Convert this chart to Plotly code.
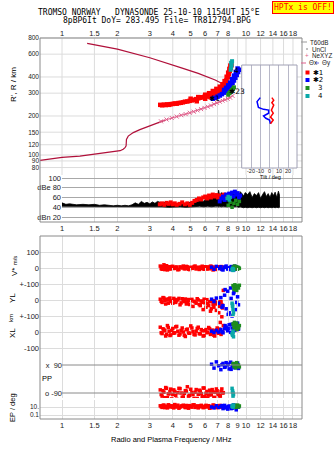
import math
import plotly.graph_objects as go

W, H = 335, 451
def px(x): return x / W
def py(y): return 1 - y / H
L10 = math.log10

# ---------------- axes ticks ----------------
freq_ticks = [1, 1.5, 2, 3, 4, 5, 6, 7, 8, 9, 10, 12, 14, 16, 18]
freq_labels = ["1", "1.5", "2", "3", "4", "5", "6", "7", "8", "9", "10", "12", "14", "16", "18"]
freq_labels_top = ["1", "1.5", "2", "3", "4", "5", "6", "7", "8", "", "10", "12", "14", "16", "18"]
r_ticks = [80, 90, 100, 120, 150, 200, 300, 400, 600, 800]
db_ticks = [20, 40, 60, 80, 100]
db_labels = ["dBn 20", "40", "60", "dBe 80", "100"]
tilt_ticks = [-20, -10, 0, 10, 20]

# ---------------- top panel: profile & echoes ----------------
prof_f = [0.76, 1.0, 1.25, 1.6, 1.85, 2.07, 2.15, 2.2, 2.23, 2.24, 2.29, 2.44, 2.65, 2.89, 3.1, 3.4, 3.63]
prof_r = [91, 96, 98, 103, 105, 108, 111, 114, 118, 132, 140, 149, 157, 165, 171, 181, 186]

nexyz_f = [3.45, 3.7, 3.95, 4.2, 4.45, 4.7, 4.95, 5.2, 5.45, 5.7, 5.95, 6.2, 6.45, 6.7, 6.95, 7.2, 7.45, 7.7, 7.95, 8.2, 8.45]
nexyz_r = [182, 188, 193, 198, 203, 207, 212, 216, 221, 226, 231, 236, 241, 247, 253, 258, 263, 267, 272, 277, 286]

desc_f = [1.37, 2.0, 3.0, 3.63, 4.5, 5.5, 6.8, 7.69, 8.36]
desc_r = [728, 657, 563, 519, 468, 427, 379, 347, 333]

red_f = [3.42, 3.5, 3.58, 3.66, 3.74, 3.82, 3.9, 4.0, 4.1, 4.2, 4.3, 4.42, 4.54, 4.66, 4.8, 4.94, 5.08,
         5.22, 5.36, 5.5, 5.64, 5.78, 5.92, 6.06, 6.2, 6.34, 6.48, 6.62, 6.76, 6.9, 7.04, 7.18, 7.32,
         7.46, 7.6, 7.72, 7.84, 7.96, 8.06, 8.16, 8.26, 8.34]
red_r = [244, 242, 245, 243, 246, 244, 247, 248, 250, 249, 252, 253, 255, 258, 259, 262, 264,
         267, 270, 274, 277, 279, 281, 283, 285, 288, 292, 297, 302, 307, 312, 318, 325,
         335, 348, 362, 378, 398, 420, 445, 470, 492]
red_hi_f = [5.0, 5.5, 6.0, 6.3, 6.6, 6.9, 7.2, 7.45, 7.65, 7.85, 8.0, 8.12, 8.22]
red_hi_r = [272, 280, 292, 300, 312, 324, 337, 352, 372, 402, 432, 462, 490]
red_lo_f = [5.4, 6.0, 6.4, 6.7, 7.0, 7.2, 7.4, 7.6, 7.8, 8.0]
red_lo_r = [260, 272, 280, 288, 295, 299, 308, 320, 335, 352]

blue_f = [6.6, 6.8, 7.0, 7.2, 7.4, 7.6, 7.8, 8.0, 8.15, 8.3, 8.45, 8.6, 8.75, 8.9, 9.05, 9.15]
blue_r = [272, 276, 282, 288, 295, 303, 312, 322, 332, 345, 360, 376, 395, 415, 437, 455]
blue2_f = [7.6, 7.8, 8.0, 8.2, 8.4, 8.6, 8.8, 9.0]
blue2_r = [318, 330, 345, 362, 385, 410, 438, 465]
green_f = [8.0, 8.1, 8.2, 8.3, 8.4, 8.5, 8.6]
green_r = [292, 300, 305, 312, 318, 325, 333]
teal_f = [8.25, 8.3, 8.35, 8.3, 8.4]
teal_r = [455, 475, 495, 515, 530]

echo_labels = ["✱1", "✱23", "4"]
echo_label_f = [6.78, 8.95, 8.83]
echo_label_r = [272, 310, 449]

# tilt inset (height km vs tilt deg)
tilty_r = [277, 258, 233, 225, 222, 210, 200, 192, 186, 174]
tilty_d = [-10, -13.5, -12, -6.5, -1, -1, -6.5, -4, 0, 1]
tiltx_r = [277, 265, 253, 243, 222, 210, 196, 186, 174]
tiltx_d = [2.5, 4.5, 2.5, 4.5, 2, 4, 1, 4, 1]

# ---------------- amplitude panel ----------------
noise_f = [1.00, 1.05, 1.1, 1.2, 1.3, 1.4, 1.5, 1.6, 1.7, 1.8, 1.9, 2.0, 2.1, 2.2, 2.3, 2.4, 2.5, 2.6,
           2.7, 2.8, 2.9, 3.0, 3.1, 3.2, 3.3, 3.5, 3.8, 4.1, 4.4, 4.7, 5.0, 5.3, 5.6, 5.9, 6.2, 6.5,
           6.8, 7.0, 7.1, 7.2, 7.35, 7.5, 7.7, 7.9, 8.1, 8.3, 8.5, 8.7, 8.9, 9.1, 9.3, 9.5, 9.7, 9.9,
           10.2, 10.5, 10.8, 11.1, 11.4, 11.7, 12.0, 12.3, 12.6, 12.9, 13.2, 13.5, 13.8, 14.1, 14.4,
           14.7, 15.0, 15.2]
noise_hi = [49, 46, 47, 45, 46, 45, 46, 44, 45, 44, 43, 44, 43, 44, 43, 45, 49, 46,
            52, 48, 50, 47, 51, 48, 52, 49, 50, 47, 46, 48, 50, 55, 60, 52, 64, 58,
            66, 60, 75, 62, 70, 66, 68, 64, 70, 62, 72, 65, 70, 60, 72, 68, 63, 70,
            66, 72, 60, 68, 64, 70, 58, 66, 72, 62, 68, 60, 70, 64, 71,
            60, 73, 65]
noise_lo = [42, 42, 41, 41, 41, 41, 41, 41, 41, 41, 41, 41, 41, 41, 41, 41, 41, 41,
            41, 41, 41, 41, 41, 41, 41, 41, 40, 40, 41, 40, 41, 41, 42, 41, 42, 41,
            42, 42, 41, 42, 41, 42, 42, 41, 42, 41, 42, 41, 42, 40, 41, 40, 39, 40,
            39, 40, 39, 40, 39, 40, 39, 40, 39, 40, 39, 40, 39, 40, 39,
            40, 39, 40]
red_db_f = [3.4, 3.5, 3.6, 3.7, 3.8, 3.9, 4.0, 4.1, 4.2, 4.35, 4.5, 4.65, 4.8, 4.95, 5.1, 5.25, 5.4,
            5.55, 5.7, 5.85, 6.0, 6.15, 6.3, 6.45, 6.6, 6.75, 6.9, 7.05, 7.2, 7.4, 7.6, 7.8, 8.0, 8.2]
red_db = [46, 48, 45, 49, 47, 50, 46, 48, 45, 47, 50, 46, 48, 45, 49, 53, 55,
          58, 56, 60, 62, 58, 64, 60, 66, 62, 65, 60, 64, 63, 66, 61, 65, 62]
blue_db_f = [7.2, 7.35, 7.5, 7.65, 7.8, 7.95, 8.1, 8.25, 8.4, 8.55, 8.7, 8.85, 9.0, 9.15, 9.3]
blue_db = [52, 58, 62, 55, 66, 60, 68, 64, 70, 62, 72, 66, 69, 60, 64]
green_db_f = [8.0, 8.2, 8.4, 8.6, 8.8, 9.0, 9.2]
green_db = [44, 50, 40, 48, 54, 46, 52]
teal_db_f = [7.9, 8.0, 8.1, 8.2]
teal_db = [58, 62, 55, 60]

# ---------------- lower panel (V*, YL, XL, PP, EP) ----------------
lr_f = [3.42, 3.5, 3.58, 3.66, 3.74, 3.82, 3.9, 4.0, 4.1, 4.2, 4.32, 4.44, 4.56, 4.68, 4.8, 4.94, 5.08,
        5.22, 5.36, 5.5, 5.64, 5.78, 5.92, 6.06, 6.2, 6.34, 6.48, 6.62, 6.76, 6.9, 7.04, 7.18, 7.32, 7.46]
lr_vs = [12, -8, 20, 3, -12, 8, -5, 10, -2, 6, -9, 4, 12, -4, 7, -10, 3, 9, -6, 5, -3, 11, -8, 2, 7, -5,
         10, -12, 4, -7, 6, -3, 9, -1]
lr_yl = [5, -15, 12, -25, 0, 8, -10, -20, 3, -5, 10, -18, -2, 6, -12, -28, 4, -8, -20, 0, -35, -15, 5,
         -45, -22, -10, -55, -30, -5, -65, -20, -40, -12, -50]
lr_xl = [30, -10, 15, -25, 40, 5, -18, 22, -5, 35, -20, 10, 0, -28, 18, -8, 25, -15, 5, 30, -12, 8, -22,
         15, -3, 20, -10, 5, -25, 12, -5, 18, -15, 3]
lr_pp = [-70, -110, -85, -55, -120, -95, -65, -100, -80, -130, -60, -90, -115, -75, -50, -105, -88, -125,
         -68, -98, -78, -112, -58, -92, -122, -72, -102, -84, -118, -64, -96, -108, -80, -90]
lr_ep = [20, 8, 30, 12, 6, 25, 15, 9, 40, 10, 5, 18, 28, 7, 12, 22, 9, 35, 14, 6, 20, 11, 8, 26, 16, 5,
         12, 30, 9, 18, 7, 22, 13, 10]

lr2_f = [3.46, 3.54, 3.62, 3.7, 3.78, 3.86, 3.95, 4.05, 4.15, 4.26, 4.38, 4.5, 4.62, 4.74, 4.87, 5.01,
         5.15, 5.29, 5.43, 5.57, 5.71, 5.85, 5.99, 6.13, 6.27, 6.41, 6.55, 6.69, 6.83, 6.97, 7.11, 7.25,
         7.39, 7.53]
lr2_vs = [-4, 8, -10, 14, 2, -6, 9, -3, 5, -11, 7, 0, -5, 10, -8, 4, -2, 12, 1, -9, 6, -4, 8, -7, 3, 11,
          -2, 5, -9, 8, 0, 6, -5, 4]
lr2_yl = [-8, 15, -3, 5, -20, 12, -6, 10, -15, 2, -30, 8, -10, -25, 3, -5, -40, -12, 8, -28, -6, -60,
          -18, 2, -35, -70, -8, -45, -25, -15, -80, -10, -30, 60]
lr2_xl = [-5, 20, 8, -15, 28, -22, 10, -8, 32, 5, -12, 25, -20, 14, -6, 38, 2, -18, 22, -10, 15, -25, 8,
          -4, 28, -15, 12, -20, 6, 25, -8, 60, 95, 40]
lr2_pp = [-100, -75, -120, -60, -95, -82, -128, -70, -105, -88, -62, -118, -92, -78, -110, -66, -100,
          -85, -125, -72, -94, -58, -114, -80, -103, -90, -68, -120, -86, -76, -98, -110, -64, -88]
lr2_ep = [12, 25, 7, 16, 35, 10, 20, 6, 14, 28, 9, 18, 11, 24, 5, 15, 32, 8, 19, 12, 26, 7, 17, 10, 21,
          6, 13, 27, 8, 15, 11, 23, 9, 14]

lb_f = [6.5, 6.7, 6.9, 7.1, 7.3, 7.5, 7.65, 7.8, 7.95, 8.1, 8.25, 8.4, 8.55, 8.7, 8.85, 9.0, 9.1,
        7.4, 7.7, 8.0, 8.3, 8.6, 8.9]
lb_vs = [5, -8, 10, -3, 8, -12, 4, 12, -6, 2, -10, 7, -4, 11, -7, 3, -2, -9, 6, -5, 9, -11, 0]
lb_yl = [5, -10, 12, -20, 15, -35, 30, -55, 55, -80, 75, -100, 40, 85, -60, 20, -30, -45, 65, -90, 10, 50, -15]
lb_xl = [5, -3, 10, 0, 15, -5, 20, 30, 8, 45, -2, 25, 50, 12, 35, 55, 18, 2, 40, 22, 48, 10, 28]
lb_pp = [95, 70, 110, 85, 60, 100, 75, 105, 90, 65, 108, 80, 98, 72, 88, 102, 68, 92, 78, 96, 62, 84, 100]
lb_ep = [10, 6, 20, 8, 14, 4, 25, 9, 3, 18, 12, 5, 30, 7, 2, 15, 10, 22, 6, 12, 4, 28, 9]

lg_f = [8.5, 8.6, 8.7, 8.8, 8.9, 9.0, 9.1, 9.2, 8.65, 8.95]
lg_vs = [5, -5, 10, 0, 8, -6, 3, -2, 12, -8]
lg_yl = [90, 70, 95, 80, 60, 85, 75, 92, 65, 88]
lg_xl = [50, 30, 45, 20, 55, 35, 25, 40, 60, 15]
lg_pp = [100, 80, 95, 72, 105, 85, 90, 78, 98, 88]
lg_ep = [20, 12, 25, 8, 15, 30, 10, 18, 22, 14]

lt_f = [8.4, 8.45, 8.5, 8.55, 8.5, 8.45]
lt_vs = [-10, -5, -15, -8, -12, -3]
lt_yl = [-20, -40, -60, -80, -95, -30]
lt_xl = [-10, -20, 5, -30, -5, -15]
lt_pp = [-60, -75, -90, -100, -110, -85]
lt_ep = [15, 25, 10, 30, 20, 12]

# ---------------- styling ----------------
RED, BLUE, GREEN, TEAL = "#ff0000", "#0000ff", "#1e8c1e", "#0aa8a8"
PROF, PINK = "#b0103a", "#e0608c"
GRID = "#dcdcdc"
TF = dict(family="Liberation Sans", size=7.5, color="#222")
TF_R = dict(family="Liberation Sans", size=6.5, color="#222")

# pixel geometry of the top panel (for gridlines that must stop at the tilt inset)
FX0, FPX = 62, 184          # x pixel of 1 MHz, pixels per decade
RY0, RPX = 155, 129.6       # y pixel of 100 km, pixels per decade
IX0, IX1, IY0, IY1 = 241.7, 297, 65, 168
TOP0, TOP1 = 38, 175

fig = go.Figure()

def pts(x, y, xa, ya, color, size=4, symbol="square"):
    fig.add_trace(go.Scatter(x=x, y=y, xaxis=xa, yaxis=ya, mode="markers",
                             marker=dict(color=color, size=size, symbol=symbol, line=dict(width=0)),
                             showlegend=False, hoverinfo="skip"))

def line(x, y, xa, ya, color, width=1.2):
    fig.add_trace(go.Scatter(x=x, y=y, xaxis=xa, yaxis=ya, mode="lines",
                             line=dict(color=color, width=width),
                             showlegend=False, hoverinfo="skip"))

# top panel
line(prof_f, prof_r, "x", "y", PROF)
line(desc_f, desc_r, "x", "y", PROF)
fig.add_trace(go.Scatter(x=nexyz_f, y=nexyz_r, xaxis="x", yaxis="y", mode="lines+markers",
                         line=dict(color=PINK, width=1),
                         marker=dict(symbol="x-thin", size=4, line=dict(color=PINK, width=1)),
                         showlegend=False, hoverinfo="skip"))
pts(red_f, red_r, "x", "y", RED, 4.5)
pts(red_hi_f, red_hi_r, "x", "y", RED, 4.5)
pts(red_lo_f, red_lo_r, "x", "y", RED, 4.5)
pts(blue_f, blue_r, "x", "y", BLUE, 4.5)
pts(blue2_f, blue2_r, "x", "y", BLUE, 4.5)
pts(green_f, green_r, "x", "y", GREEN, 4)
pts(teal_f, teal_r, "x", "y", TEAL, 4)

# tilt inset
line(tilty_d, tilty_r, "x4", "y8", BLUE, 1.5)
line(tiltx_d, tiltx_r, "x4", "y8", RED, 1.5)

# amplitude panel
fig.add_trace(go.Scatter(x=noise_f + noise_f[::-1], y=noise_hi + noise_lo[::-1], xaxis="x2", yaxis="y2",
                         mode="lines", fill="toself", fillcolor="#000", line=dict(color="#000", width=0.8),
                         showlegend=False, hoverinfo="skip"))
pts(red_db_f, red_db, "x2", "y2", RED, 4)
pts(blue_db_f, blue_db, "x2", "y2", BLUE, 4)
pts(green_db_f, green_db, "x2", "y2", GREEN, 3.5)
pts(teal_db_f, teal_db, "x2", "y2", TEAL, 3.5)

# lower panel
for (f, vs, yl, xl, pp, ep, c) in [
    (lr_f, lr_vs, lr_yl, lr_xl, lr_pp, lr_ep, RED),
    (lr2_f, lr2_vs, lr2_yl, lr2_xl, lr2_pp, lr2_ep, RED),
    (lb_f, lb_vs, lb_yl, lb_xl, lb_pp, lb_ep, BLUE),
    (lg_f, lg_vs, lg_yl, lg_xl, lg_pp, lg_ep, GREEN),
    (lt_f, lt_vs, lt_yl, lt_xl, lt_pp, lt_ep, TEAL),
]:
    pts(f, vs, "x3", "y3", c, 3.5)
    pts(f, yl, "x3", "y4", c, 3.5)
    pts(f, xl, "x3", "y5", c, 3.5)
    pts(f, pp, "x3", "y6", c, 3.5)
    pts(f, ep, "x3", "y7", c, 3.5)

XR = [-0.1196, 1.3043]
xbase = dict(type="log", tickvals=freq_ticks, showgrid=True, gridcolor=GRID, gridwidth=1,
             zeroline=False, showline=False, ticks="", tickfont=TF, tickangle=0)
ybase = dict(showgrid=True, gridcolor=GRID, gridwidth=1, zeroline=False, showline=False,
             ticks="", tickfont=TF, tickangle=0)

fig.update_layout(
    width=W, height=H, margin=dict(l=0, r=0, t=0, b=0, autoexpand=False),
    paper_bgcolor="white", plot_bgcolor="rgba(0,0,0,0)", showlegend=False,
    xaxis=dict(**{**xbase, "showgrid": False}, domain=[px(40), px(302)], range=XR, anchor="y",
               side="top", ticktext=freq_labels_top),
    yaxis=dict(**{**ybase, "showgrid": False, "tickfont": TF_R}, type="log", domain=[py(TOP1), py(TOP0)],
               range=[1.846, 2.9031], anchor="x", tickvals=r_ticks, ticktext=[str(v) for v in r_ticks]),
    xaxis2=dict(**xbase, domain=[px(62), px(302)], range=[0, XR[1]], anchor="y2", side="bottom",
                ticktext=freq_labels),
    yaxis2=dict(**{**ybase, "gridcolor": "#a8a8a8"}, domain=[py(222), py(175)], range=[9.74, 106.15],
                anchor="x2", tickvals=db_ticks, ticktext=db_labels),
    xaxis3=dict(**xbase, domain=[px(40), px(302)], range=XR, anchor="y7", side="bottom",
                ticktext=freq_labels),
    yaxis3=dict(**ybase, domain=[py(300), py(236)], range=[-200, 200], anchor="x3",
                tickvals=[100, 0], ticktext=["100", "0"]),
    yaxis4=dict(**ybase, domain=[py(332), py(268)], range=[-200, 200], anchor="x3",
                tickvals=[100, 0], ticktext=["+-100", "0"]),
    yaxis5=dict(**ybase, domain=[py(364), py(300)], range=[-200, 200], anchor="x3",
                tickvals=[100, 0, -100], ticktext=["+-100", "0", "-100"]),
    yaxis6=dict(**{**ybase, "showgrid": False}, domain=[py(398), py(360)], range=[-122.1, 122.1],
                anchor="free", position=px(62), tickvals=[90, -90], ticktext=["x  90", "o -90"]),
    yaxis7=dict(**{**ybase, "tickfont": TF_R}, type="log", domain=[py(419), py(400)], range=[-2, 2.75],
                anchor="x3", tickvals=[10, 0.1], ticktext=["10.", "0.1"]),
    xaxis4=dict(domain=[px(IX0), px(IX1)], range=[-30.1, 29.7], anchor="y8", showgrid=True,
                gridcolor="#b8b8c8", zeroline=False, showline=False, ticks="",
                tickvals=tilt_ticks, showticklabels=False),
    yaxis8=dict(type="log", domain=[py(IY1), py(IY0)], range=[1.8997, 2.6944], anchor="x4",
                showgrid=False, zeroline=False, showline=False, showticklabels=False, ticks=""),
)

shapes = []
def hline(x0, x1, y, color=GRID, layer="below"):
    shapes.append(dict(type="line", xref="paper", yref="paper", x0=px(x0), x1=px(x1), y0=py(y), y1=py(y),
                       line=dict(color=color, width=1), layer=layer))
def vline(x, y0, y1, color=GRID, layer="below"):
    shapes.append(dict(type="line", xref="paper", yref="paper", x0=px(x), x1=px(x), y0=py(y0), y1=py(y1),
                       line=dict(color=color, width=1), layer=layer))

# top-panel gridlines, interrupted by the tilt inset
for r in r_ticks:
    yy = RY0 - RPX * L10(r / 100)
    if IY0 <= yy <= IY1:
        hline(40, IX0, yy); hline(IX1, 302, yy)
    else:
        hline(40, 302, yy)
for f in freq_ticks:
    xx = FX0 + FPX * L10(f)
    if IX0 <= xx <= IX1:
        vline(xx, TOP0, IY0); vline(xx, IY1, TOP1)
    else:
        vline(xx, TOP0, TOP1)
# inset box
shapes.append(dict(type="rect", xref="paper", yref="paper", x0=px(IX0), x1=px(IX1), y0=py(IY1), y1=py(IY0),
                   line=dict(color="#a0a0b4", width=1)))
# frames
for (y0, y1) in [(38, 222), (236, 419)]:
    shapes.append(dict(type="rect", xref="paper", yref="paper", x0=px(40), x1=px(302),
                       y0=py(y1), y1=py(y0), line=dict(color="#8a8a8a", width=1)))
# PP lines
for yy in [365, 393]:
    hline(62, 302, yy, color="#8a8a8a", layer="above")
# legend marks
hline(301, 307, 42, color="#999", layer="above")
hline(301, 306, 63, color=PINK, layer="above")
hline(315, 319, 63, color="#6060e0", layer="above")
shapes.append(dict(type="rect", xref="paper", yref="paper", x0=px(306.5), x1=px(307.5),
                   y0=py(49.5), y1=py(48.5), fillcolor="#000", line=dict(width=0)))
for c, yy in [(RED, 72.5), (BLUE, 80), (GREEN, 88), (TEAL, 96)]:
    shapes.append(dict(type="rect", xref="paper", yref="paper", x0=px(305.5), x1=px(309.5),
                       y0=py(yy + 2), y1=py(yy - 2), fillcolor=c, line=dict(width=0)))
fig.update_layout(shapes=shapes)

ann = []
def note(text, x, y, size=7.5, xanchor="center", angle=0, family="Liberation Sans", color="#222", **kw):
    ann.append(dict(text=text, x=px(x), y=py(y), xref="paper", yref="paper", showarrow=False,
                    xanchor=xanchor, yanchor="middle", textangle=angle,
                    font=dict(family=family, size=size, color=color), **kw))

NB = "\u00a0"
note("TROMSO NORWAY" + NB * 3 + "DYNASONDE 25-10-10 1154UT 15°E", 149, 12, 8, family="DejaVu Sans Mono", color="#000")
note("8pBP6It DoY= 283.495 File= TR812794.BPG", 157, 20.5, 8, family="DejaVu Sans Mono", color="#000")
note("HPTx is OFF!", 302.5, 7.5, 8, family="DejaVu Sans Mono", color="#ff0000",
     bgcolor="#ffff00", bordercolor="#ff0000", borderwidth=1, borderpad=1)
note("R', R / km", 13, 85, 8, angle=-90, color="#000")
note("V* <span style='font-size:6px'>m/s</span>", 14, 266, 8, angle=-90, color="#000")
note("YL", 12, 298, 8, angle=-90, color="#000")
note("km", 11, 318, 6, angle=-90, color="#000")
note("XL", 12, 333, 8, angle=-90, color="#000")
note("PP", 47, 378, 7.5, color="#000")
note("EP / deg", 12, 408, 7.5, angle=-90, color="#000")
note("Radio and Plasma Frequency / MHz", 171, 439, 7.5, color="#000")
note("Tilt / deg", 270, 176.5, 5.5, color="#000")
# tilt tick labels (placed on the tilt axis scale)
for t in tilt_ticks:
    ann.append(dict(text=str(t), x=t, y=py(170.8), xref="x4", yref="paper", showarrow=False,
                    xanchor="center", yanchor="middle",
                    font=dict(family="Liberation Sans", size=5.5, color="#222")))
# legend text
note("T60dB", 308, 42, 6.3, xanchor="left")
note("UnCl", 310, 49, 6.3, xanchor="left")
note("+", 306.5, 56, 6.3, color=PINK)
note("NeXYZ", 309.5, 56, 6.3, xanchor="left")
note("Θx", 306.5, 63, 6.3, xanchor="left")
note("Θy", 319.5, 63, 6.3, xanchor="left")
for t, yy, xx in [("✱1", 72.5, 311), ("✱2", 80, 311), ("3", 88, 316), ("4", 96, 316)]:
    note(t, xx, yy, 7, xanchor="left", family="DejaVu Sans", color="#000")
# echo cluster labels
for t, f, r in zip(echo_labels, echo_label_f, echo_label_r):
    ann.append(dict(text=t, x=L10(f), y=L10(r), xref="x", yref="y", showarrow=False,
                    font=dict(family="DejaVu Sans", size=7.5, color="#000")))
fig.update_layout(annotations=ann)

fig.write_html("out.html")
